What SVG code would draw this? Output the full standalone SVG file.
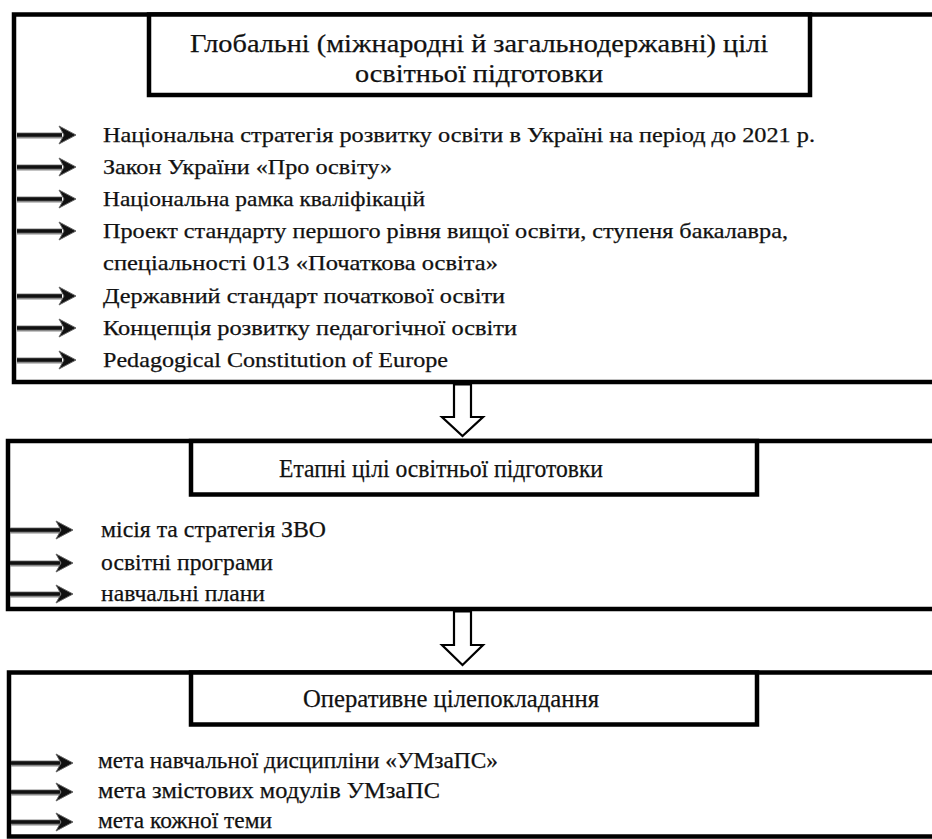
<svg xmlns="http://www.w3.org/2000/svg" xmlns:xlink="http://www.w3.org/1999/xlink" width="932" height="839" viewBox="0 0 932 839">
<style>
.outer{fill:none;stroke:#000;stroke-width:4.5}
.hdr{fill:#fff;stroke:#000;stroke-width:4.5}
.t{font-family:"Liberation Serif","DejaVu Serif","Noto Serif",serif;fill:#111;stroke:#111;stroke-width:0.25}
.h1{font-size:26px}
.it{font-size:21px}
.h2{font-size:26px}
.it2{font-size:23px}
.hollow{fill:#fff;stroke:#000;stroke-width:2.2;stroke-linejoin:miter}
.sh{stroke:#8a8a8a;stroke-width:6}
.sk{stroke:#111;stroke-width:3.5}
.hd{fill:#111;stroke:#666;stroke-width:1}
</style>
<defs>
<g id="arr">
<polygon class="hd" points="0,0 -17,-9 -12,0 -17,9"/>
</g>
</defs>
<rect width="932" height="839" fill="#fff"/>

<g id="box-global">
<rect class="outer" x="14" y="14.5" width="940" height="367.5"/>
<rect class="hdr" x="149" y="14.5" width="661" height="80.5"/>
<text class="t h1" x="190" y="52" textLength="578" lengthAdjust="spacingAndGlyphs">Глобальні (міжнародні й загальнодержавні) цілі</text>
<text class="t h1" x="355" y="82" textLength="248" lengthAdjust="spacingAndGlyphs">освітньої підготовки</text>
<text class="t it" x="103" y="142" textLength="712" lengthAdjust="spacingAndGlyphs">Національна стратегія розвитку освіти в Україні на період до 2021 р.</text>
<text class="t it" x="103" y="174" textLength="289" lengthAdjust="spacingAndGlyphs">Закон України «Про освіту»</text>
<text class="t it" x="103" y="206" textLength="322" lengthAdjust="spacingAndGlyphs">Національна рамка кваліфікацій</text>
<text class="t it" x="103" y="238" textLength="685" lengthAdjust="spacingAndGlyphs">Проект стандарту першого рівня вищої освіти, ступеня бакалавра,</text>
<text class="t it" x="103" y="270" textLength="395" lengthAdjust="spacingAndGlyphs">спеціальності 013 «Початкова освіта»</text>
<text class="t it" x="103" y="303" textLength="402" lengthAdjust="spacingAndGlyphs">Державний стандарт початкової освіти</text>
<text class="t it" x="103" y="335" textLength="414" lengthAdjust="spacingAndGlyphs">Концепція розвитку педагогічної освіти</text>
<text class="t it" x="103" y="367" textLength="345" lengthAdjust="spacingAndGlyphs">Pedagogical Constitution of Europe</text>
</g>

<g id="box-stage">
<rect class="outer" x="8" y="441" width="940" height="168"/>
<rect class="hdr" x="191" y="441" width="566" height="53.5"/>
<text class="t h2" x="279" y="477" textLength="324" lengthAdjust="spacingAndGlyphs">Етапні цілі освітньої підготовки</text>
<text class="t it2" x="101" y="537" textLength="225" lengthAdjust="spacingAndGlyphs">місія та стратегія ЗВО</text>
<text class="t it2" x="101" y="570" textLength="172" lengthAdjust="spacingAndGlyphs">освітні програми</text>
<text class="t it2" x="101" y="601" textLength="164" lengthAdjust="spacingAndGlyphs">навчальні плани</text>
</g>

<g id="box-operative">
<rect class="outer" x="9" y="672.5" width="940" height="164"/>
<rect class="hdr" x="191" y="672.5" width="566" height="52"/>
<text class="t h2" x="303" y="707" textLength="296" lengthAdjust="spacingAndGlyphs">Оперативне цілепокладання</text>
<text class="t it2" x="98" y="768" textLength="400" lengthAdjust="spacingAndGlyphs">мета навчальної дисципліни «УМзаПС»</text>
<text class="t it2" x="98" y="798" textLength="342" lengthAdjust="spacingAndGlyphs">мета змістових модулів УМзаПС</text>
<text class="t it2" x="98" y="828" textLength="174" lengthAdjust="spacingAndGlyphs">мета кожної теми</text>
</g>

<g id="connectors">
<g>
<line class="sh" x1="17" y1="135.5" x2="62" y2="135.5"/><line class="sk" x1="17" y1="135" x2="62" y2="135"/><use xlink:href="#arr" x="76" y="135"/>
<line class="sh" x1="17" y1="167.5" x2="62" y2="167.5"/><line class="sk" x1="17" y1="167" x2="62" y2="167"/><use xlink:href="#arr" x="76" y="167"/>
<line class="sh" x1="17" y1="199.5" x2="62" y2="199.5"/><line class="sk" x1="17" y1="199" x2="62" y2="199"/><use xlink:href="#arr" x="76" y="199"/>
<line class="sh" x1="17" y1="231.5" x2="62" y2="231.5"/><line class="sk" x1="17" y1="231" x2="62" y2="231"/><use xlink:href="#arr" x="76" y="231"/>
<line class="sh" x1="17" y1="296.5" x2="62" y2="296.5"/><line class="sk" x1="17" y1="296" x2="62" y2="296"/><use xlink:href="#arr" x="76" y="296"/>
<line class="sh" x1="17" y1="328.5" x2="62" y2="328.5"/><line class="sk" x1="17" y1="328" x2="62" y2="328"/><use xlink:href="#arr" x="76" y="328"/>
<line class="sh" x1="17" y1="360.5" x2="62" y2="360.5"/><line class="sk" x1="17" y1="360" x2="62" y2="360"/><use xlink:href="#arr" x="76" y="360"/>
</g>
<g>
<line class="sh" x1="10" y1="530.5" x2="60" y2="530.5"/><line class="sk" x1="10" y1="530" x2="60" y2="530"/><use xlink:href="#arr" x="73" y="530"/>
<line class="sh" x1="10" y1="563.5" x2="60" y2="563.5"/><line class="sk" x1="10" y1="563" x2="60" y2="563"/><use xlink:href="#arr" x="73" y="563"/>
<line class="sh" x1="10" y1="594.5" x2="60" y2="594.5"/><line class="sk" x1="10" y1="594" x2="60" y2="594"/><use xlink:href="#arr" x="73" y="594"/>
</g>
<g>
<line class="sh" x1="11" y1="763.5" x2="60" y2="763.5"/><line class="sk" x1="11" y1="763" x2="60" y2="763"/><use xlink:href="#arr" x="73" y="763"/>
<line class="sh" x1="11" y1="792.5" x2="60" y2="792.5"/><line class="sk" x1="11" y1="792" x2="60" y2="792"/><use xlink:href="#arr" x="73" y="792"/>
<line class="sh" x1="11" y1="822.5" x2="60" y2="822.5"/><line class="sk" x1="11" y1="822" x2="60" y2="822"/><use xlink:href="#arr" x="73" y="822"/>
</g>
<polygon class="hollow" points="454,384.5 471,384.5 471,417 483,417 462.5,436 442,417 454,417"/>
<polygon class="hollow" points="454,611.5 471,611.5 471,645 483,645 462.5,665 442,645 454,645"/>
</g>
</svg>
